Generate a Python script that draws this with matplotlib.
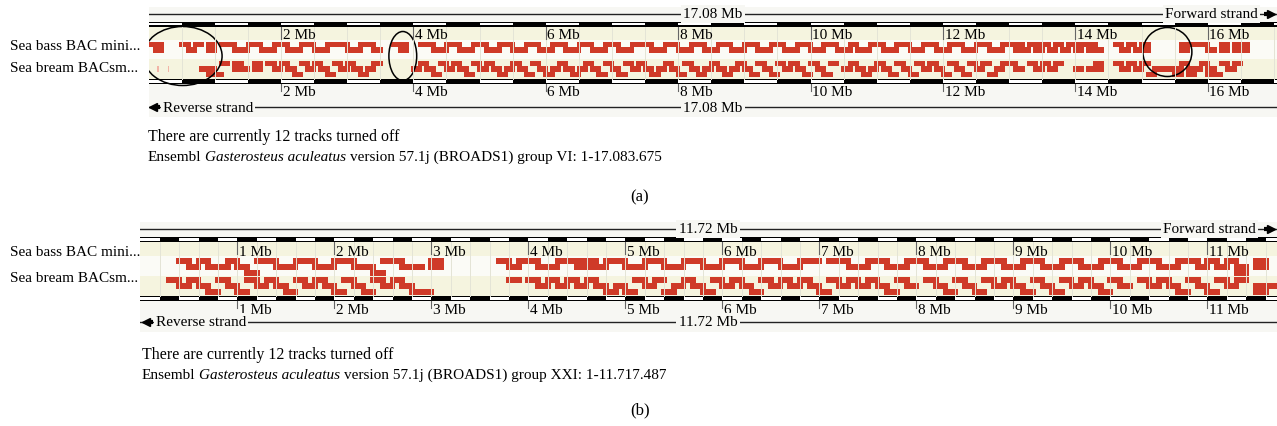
import matplotlib.pyplot as plt
from matplotlib.patches import Rectangle, Ellipse

W, H = 1277, 427
RED = '#cf3a28'
PALE = '#f2b4a6'
CREAM = '#f5f4df'
LIGHT = '#fbfbf6'
BG = '#f7f7f3'
FS = 11

plt.rcParams['font.family'] = ['Liberation Serif', 'DejaVu Serif']

track_names = ['Sea bass BAC mini...', 'Sea bream BACsm...']

# one character per 0.1 Mb, one line per Mb
# '.' no hit, '0'/'1'/'2' sub-row of the track, 'a' rows 0+1, 'b' rows 1+2
BIN = 0.1
ROWS = {'0': [0], '1': [1], '2': [2], 'a': [0, 1], 'b': [1, 2]}

# (a) group VI
len_a = 17.083675
bass_a = ("0a...010.a"
          ".001100110"
          "0110011000"
          "11001..0a."
          ".001100110"
          "0110011001"
          "1001100110"
          "0110001100"
          "1100110011"
          "0011001100"
          "1100110110"
          "0110011001"
          "1001100110"
          "0a10a01010"
          "a0a1..0101"
          "a.....a000"
          "1.a.aa...."
          ".")
bream_a = ("........1b"
           "20.a1.a.01"
           "0120101201"
           "01210....."
           "1012010120"
           "1012101201"
           "2101210120"
           "1201012101"
           "2012101210"
           "1201201012"
           "0120.10121"
           "0120120101"
           "2012010210"
           "01.01010.."
           "1.1a..0101"
           "02111b0b10"
           "b2010....."
           ".")
bream_a_faint = [0.13, 0.29]
circled_a = [(-0.08, 1.11), (3.63, 4.05), (15.02, 15.76)]

# (b) group XXI
len_b = 11.717487
bass_b = ("....010110"
          "1200110011"
          "001120011."
          "a......010"
          "01100aa100"
          "1100110011"
          "0011001100"
          ".001100110"
          "0110011001"
          "1001100110"
          "0110011001"
          "010b.a....")
bream_b = ("...0101201"
           "2010120101"
           "2012010122"
           "........0."
           "0101010121"
           "2010210120"
           "1012010101"
           "2010101201"
           ".012012010"
           "1201201012"
           "01.0101201"
           "2010.b1...")

fig = plt.figure(figsize=(W / 100, H / 100), dpi=100)


def make_panel(x0, x1, y0, y1, length):
    ax = fig.add_axes([x0 / W, 1 - y1 / H, (x1 - x0) / W, (y1 - y0) / H])
    ax.set_xlim(0, length)
    ax.set_ylim(y1, y0)
    ax.axis('off')
    return ax


def runs(code, row, extra):
    out = []
    for i, c in enumerate(code):
        if c in ROWS and row in ROWS[c]:
            if out and abs(out[-1][0] + out[-1][1] - i * BIN) < 1e-9:
                out[-1] = (out[-1][0], out[-1][1] + BIN)
            else:
                out.append((i * BIN, BIN))
    # clones overlap their neighbours a little
    return [(s - extra / 2, w + extra) for s, w in out]


def scale_bar(ax, length, seg, y, h):
    ax.add_patch(Rectangle((0, y), length, h, facecolor='black', lw=0))
    n = int(length / seg) + 1
    for i in range(0, n, 2):
        ax.add_patch(Rectangle((i * seg, y + 1.1), seg, h - 2.2,
                               facecolor='white', lw=0))


def draw_panel(ax, length, seg, major, L, bass, bream):
    o = L['off']
    ax.add_patch(Rectangle((0, o + 8), length, 110, facecolor=BG, lw=0))
    ax.plot([0, length], [o + 15, o + 15], color='#222222', lw=1)
    ax.plot([0, length], [o + 108, o + 108], color='#222222', lw=1)
    # track backgrounds
    ax.add_patch(Rectangle((0, o + L['bar1'] + L['bh']), length,
                           L['band1'] - L['bar1'] - L['bh'], facecolor=CREAM, lw=0))
    ax.add_patch(Rectangle((0, o + L['band1']), length,
                           L['band2'] - L['band1'], facecolor=LIGHT, lw=0))
    ax.add_patch(Rectangle((0, o + L['band2']), length,
                           L['bar2'] - L['band2'], facecolor=CREAM, lw=0))
    # faint grid
    k = 1
    while k * seg < length:
        ax.plot([k * seg] * 2, [o + L['bar1'] + L['bh'], o + L['bar2']],
                color='#e4e4d6', lw=0.7)
        k += 1
    scale_bar(ax, length, seg, o + L['bar1'], L['bh'])
    scale_bar(ax, length, seg, o + L['bar2'], L['bh'])
    for m in range(major, int(length) + 1, major):
        ax.plot([m, m], [o + L['bar1'] + L['bh'], o + L['bar1'] + L['bh'] + 12],
                color='#666666', lw=0.8)
        ax.plot([m, m], [o + L['bar2'] + L['bh'], o + L['bar2'] + L['bh'] + 7],
                color='#666666', lw=0.8)
        for ty in (L['lab1'], L['lab2']):
            ax.annotate(f'{m} Mb', (m, o + ty), xytext=(1.2, 0),
                        textcoords='offset points', ha='left', va='center',
                        fontsize=FS)
    for code, top in ((bass, L['bass']), (bream, L['bream'])):
        for r in range(3):
            rr = runs(code, r, L['extra'])
            if rr:
                ax.broken_barh(rr, (o + top + r * L['rh'], L['rh']),
                               facecolors=RED, lw=0)


ax_a = make_panel(148.6, 1279.5, 0, 120, len_a)
lay_a = dict(off=0, bar1=22.5, bar2=80, bh=5, band1=41, band2=60,
             lab1=35.5, lab2=93, bass=43, bream=62, rh=5.3, extra=0.07)
draw_panel(ax_a, len_a, 0.5, 2, lay_a, bass_a, bream_a)
ax_a.broken_barh([(p, 0.025) for p in bream_a_faint], (62 + 5.3, 5.3),
                 facecolors=PALE, lw=0)
for (s, e), yc, hh in zip(circled_a, [57, 57, 53], [59, 49, 49]):
    ax_a.add_patch(Ellipse(((s + e) / 2, yc), e - s, hh, fill=False,
                           edgecolor='black', lw=1.1))

ax_b = make_panel(140.3, 1277, 215, 335, len_b)
lay_b = dict(off=215, bar1=23, bar2=82, bh=5, band1=42, band2=61.5,
             lab1=37.5, lab2=95, bass=44, bream=62.5, rh=6, extra=0.06)
draw_panel(ax_b, len_b, 0.2, 1, lay_b, bass_b, bream_b)

# overlay in pixel coordinates for strand labels and captions
ov = fig.add_axes([0, 0, 1, 1])
ov.set_xlim(0, W)
ov.set_ylim(H, 0)
ov.axis('off')

box = dict(facecolor=BG, edgecolor='none', pad=1.5)
for yt, mid, total, fwd_r in ((15, 713, '17.08 Mb', 1258), (230, 708, '11.72 Mb', 1256)):
    ov.text(mid, yt, total, ha='center', va='center', fontsize=FS, bbox=box)
    ov.text(fwd_r, yt, 'Forward strand', ha='right', va='center', fontsize=FS, bbox=box)
    ov.plot([1264, 1269], [yt, yt], color='black', lw=3, solid_capstyle='butt')
    ov.plot(1271, yt, marker='>', ms=6, color='black')
for yt, mid, total, x0 in ((108, 713, '17.08 Mb', 149), (323, 708, '11.72 Mb', 142)):
    ov.plot(x0 + 4, yt, marker='<', ms=6, color='black')
    ov.plot([x0 + 6, x0 + 11], [yt, yt], color='black', lw=3, solid_capstyle='butt')
    ov.text(x0 + 14, yt, 'Reverse strand', ha='left', va='center', fontsize=FS, bbox=box)
    ov.text(mid, yt, total, ha='center', va='center', fontsize=FS, bbox=box)

for ys in ((46, 69), (253, 279)):
    for name, y in zip(track_names, ys):
        ov.text(10, y, name, ha='left', va='center', fontsize=FS)

CFS = 11


def caption(x, y, parts):
    t = ov.text(x, y, parts[0][0], style=parts[0][1], ha='left', va='center', fontsize=CFS)
    for s, st in parts[1:]:
        t = ov.annotate(s, xy=(1, 0), xycoords=t, xytext=(2.6, 0),
                        textcoords='offset points', ha='left', va='bottom',
                        style=st, fontsize=CFS)


ov.text(148, 137, 'There are currently 12 tracks turned off', ha='left', va='center', fontsize=11.4)
caption(148, 158, [('Ensembl', 'normal'), ('Gasterosteus aculeatus', 'italic'),
                   ('version 57.1j (BROADS1) group VI: 1-17.083.675', 'normal')])
ov.text(640, 197, '(a)', ha='center', va='center', fontsize=12)

ov.text(142, 355, 'There are currently 12 tracks turned off', ha='left', va='center', fontsize=11.4)
caption(142, 376, [('Ensembl', 'normal'), ('Gasterosteus aculeatus', 'italic'),
                   ('version 57.1j (BROADS1) group XXI: 1-11.717.487', 'normal')])
ov.text(640, 410, '(b)', ha='center', va='center', fontsize=12)

fig.savefig('out.png', dpi=100, facecolor='white')
